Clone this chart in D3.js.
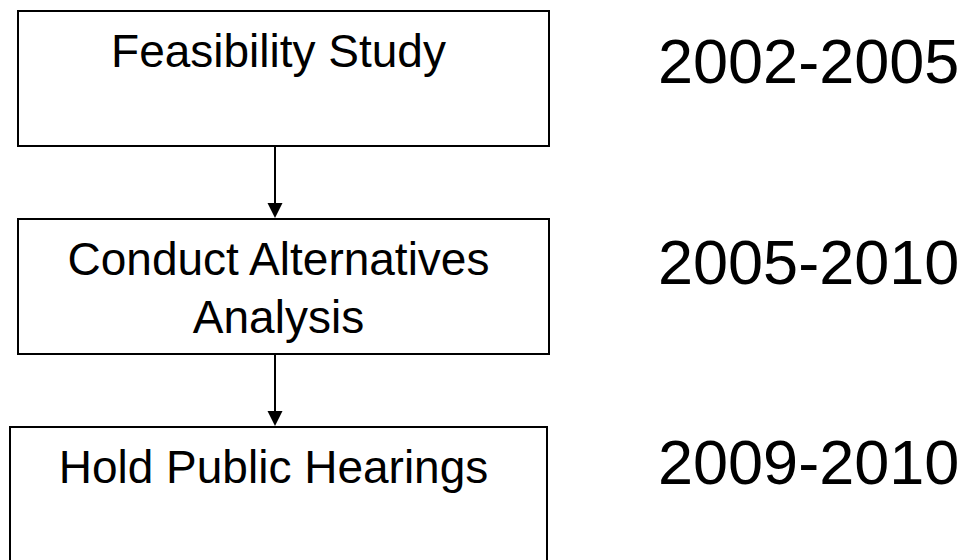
<!DOCTYPE html>
<html>
<head>
<meta charset="utf-8">
<script src="https://cdn.jsdelivr.net/npm/d3@7"></script>
<style>
  body { margin: 0; background: #fff; }
  svg { display: block; font-family: "Liberation Sans", Arial, sans-serif; }
</style>
</head>
<body>
<svg id="chart"></svg>
<script>
// steps of the process, top to bottom
const steps = ['Feasibility Study', 'Conduct Alternatives Analysis', 'Hold Public Hearings'];
// text lines inside each box
const stepLines = [['Feasibility Study'], ['Conduct Alternatives', 'Analysis'], ['Hold Public Hearings']];
// time span for each step
const periods = ['2002-2005', '2005-2010', '2009-2010'];

const width = 968, height = 560;

const svg = d3.select('#chart')
  .attr('width', width)
  .attr('height', height);

// vertical position of the boxes
const y = d3.scaleBand()
  .domain(steps)
  .range([11, 562])
  .paddingInner(0.351)
  .paddingOuter(0);

// vertical position of the year labels (baselines)
const yYear = d3.scalePoint()
  .domain(periods)
  .range([83, 484]);

const boxX = [18, 18, 10];
const boxR = [549, 549, 547];
const arrowX = 275;

// boxes
svg.append('g')
  .selectAll('rect')
  .data(steps)
  .join('rect')
  .attr('x', (d, i) => boxX[i])
  .attr('y', d => y(d))
  .attr('width', (d, i) => boxR[i] - boxX[i])
  .attr('height', y.bandwidth())
  .attr('fill', '#fff')
  .attr('stroke', '#000')
  .attr('stroke-width', 2);

// box labels
svg.append('g')
  .selectAll('text')
  .data(steps)
  .join('text')
  .attr('x', (d, i) => (boxX[i] + boxR[i]) / 2 - 5)
  .attr('y', d => y(d) + 56)
  .attr('text-anchor', 'middle')
  .attr('font-size', 46)
  .attr('fill', '#000')
  .selectAll('tspan')
  .data((d, i) => stepLines[i])
  .join('tspan')
  .attr('x', function () { return d3.select(this.parentNode).attr('x'); })
  .attr('dy', (d, i) => i === 0 ? 0 : 58)
  .text(d => d);

// arrows between boxes
const links = d3.pairs(steps);
const head = 15;
const ag = svg.append('g');
ag.selectAll('line')
  .data(links)
  .join('line')
  .attr('x1', arrowX)
  .attr('x2', arrowX)
  .attr('y1', d => y(d[0]) + y.bandwidth())
  .attr('y2', d => y(d[1]) - head + 1)
  .attr('stroke', '#000')
  .attr('stroke-width', 2);
ag.selectAll('path')
  .data(links)
  .join('path')
  .attr('d', d => {
    const t = y(d[1]) - 1;
    return `M${arrowX - head / 2},${t - head}L${arrowX + head / 2},${t - head}L${arrowX},${t}Z`;
  })
  .attr('fill', '#000');

// year labels
svg.append('g')
  .selectAll('text')
  .data(periods)
  .join('text')
  .attr('x', 658)
  .attr('y', d => yYear(d))
  .attr('font-size', 63)
  .attr('fill', '#000')
  .text(d => d);
</script>
</body>
</html>
